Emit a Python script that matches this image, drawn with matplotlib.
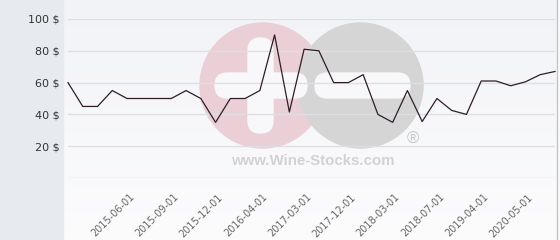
import numpy as np
import matplotlib
matplotlib.use("Agg")
import matplotlib.pyplot as plt
from matplotlib.patches import Rectangle, Circle, FancyBboxPatch
from matplotlib.transforms import offset_copy

# price per date (one value per observation)
prices = [60, 45, 45, 55, 50, 50, 50, 50, 55, 50, 35, 50, 50, 55, 90, 41.5, 81, 80,
          60, 60, 65, 40, 35, 55, 35.5, 50, 42.5, 40, 61, 61, 58, 60.5, 65, 67]

# labelled dates and the observation they belong to
tick_idx = [4, 7, 10, 13, 16, 19, 22, 25, 28, 31]
tick_labels = ["2015-06-01", "2015-09-01", "2015-12-01", "2016-04-01", "2017-03-01",
               "2017-12-01", "2018-03-01", "2018-07-01", "2019-04-01", "2020-05-01"]

y_ticks = [20, 40, 60, 80, 100]
grid_lines = [0, 20, 40, 60, 80, 100]

W, H = 560, 240
fig = plt.figure(figsize=(W / 100, H / 100), dpi=100)

# background layer in pixel coordinates
bg = fig.add_axes([0, 0, 1, 1])
bg.set_axis_off()

grad = np.linspace(0, 1, 100).reshape(-1, 1)
top = np.array([242, 243, 247]) / 255
bot = np.array([252, 252, 253]) / 255
img = top + (bot - top) * grad[..., None]
img = img.reshape(100, 1, 3)
bg.imshow(img, extent=(63, 557, 240, 0), aspect="auto", origin="upper", zorder=0)

bg.add_patch(Rectangle((0, 0), 63, 240, color="#e7eaee", zorder=1))
bg.add_patch(Rectangle((557, 0), 3, 240, color="#fbfbfb", zorder=1))
bg.plot([557, 557], [0, 240], color="#c4c4c4", lw=1, zorder=2)

# watermark logo
bg.add_patch(Circle((262.5, 85.5), 62.5, color="#ebcfd6", zorder=2))
bg.add_patch(Circle((360.5, 85.5), 62.5, color="#d5d5d5", zorder=2))
bar = dict(boxstyle="round,pad=0,rounding_size=12.5", color="#f8f8fa", zorder=3)
bg.add_patch(FancyBboxPatch((248, 38), 25, 95, **bar))
bg.add_patch(FancyBboxPatch((215, 73), 92, 25, **bar))
bg.add_patch(FancyBboxPatch((315, 73), 95, 25, **bar))
bg.text(312.5, 161, "www.Wine-Stocks.com", ha="center", va="center", fontsize=10.8,
        fontweight="bold", family="Liberation Sans", color="#d2d2d2", zorder=3)
bg.text(413, 139, "\u00ae", ha="center", va="center", fontsize=12,
        family="Liberation Sans", color="#c8c8c8", zorder=3)

bg.set_xlim(0, W)
bg.set_ylim(H, 0)

# chart axes
ax = fig.add_axes([68 / W, 62 / H, 487 / W, 159 / H])
ax.patch.set_alpha(0)
for s in ax.spines.values():
    s.set_visible(False)

x = np.arange(len(prices))
ax.set_xlim(0, len(prices) - 1)
ax.set_ylim(0, 100)

for v in grid_lines:
    ax.axhline(v, color="#dfdfe3", lw=1, zorder=1)

ax.plot(x, prices, color="#2e1d29", lw=0.9, clip_on=False, zorder=3)

ax.set_yticks(y_ticks, [f"{v} $" for v in y_ticks])
ax.tick_params(axis="y", length=0, pad=5.8, labelsize=8, labelcolor="#333333")
ax.set_xticks([])

lab_tr = offset_copy(ax.get_xaxis_transform(), fig=fig, x=2, y=-14, units="dots")
for i, lbl in zip(tick_idx, tick_labels):
    ax.text(i, 0, lbl, transform=lab_tr, rotation=45, ha="right", va="top",
            rotation_mode="anchor", fontsize=7, color="#666666")

fig.savefig("out.png", dpi=100)
